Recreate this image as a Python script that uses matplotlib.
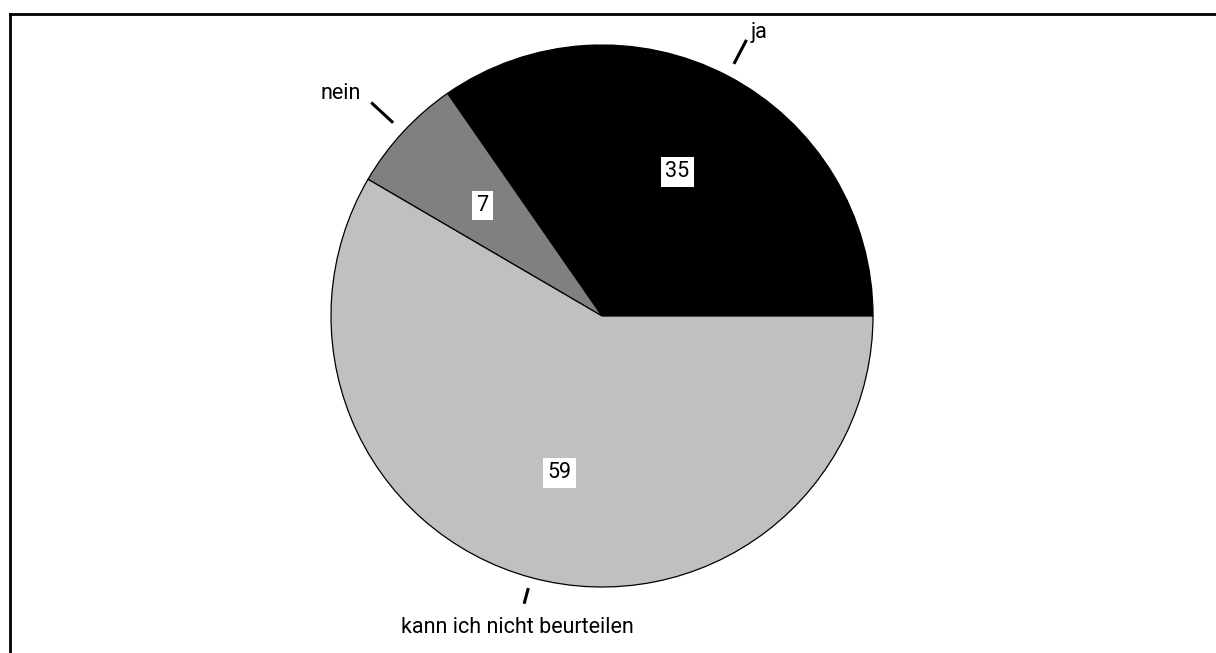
import numpy as np
import matplotlib.pyplot as plt
from matplotlib.lines import Line2D

plt.rcParams['font.family'] = ['Roboto', 'DejaVu Sans']

labels = ['ja', 'nein', 'kann ich nicht beurteilen']
values = [35, 7, 59]
colors = ['#000000', '#808080', '#c0c0c0']

W, H = 1216, 653
cx, cy, r = 602, 316, 271

fig = plt.figure(figsize=(W / 100, H / 100), dpi=100)
ax = fig.add_axes([0, 0, 1, 1])

wedges, _ = ax.pie(values, colors=colors, startangle=0, counterclock=True,
                   radius=1, center=(0, 0), frame=True,
                   wedgeprops=dict(edgecolor='black', linewidth=0.9))
ax.set_xlim(-cx / r, (W - cx) / r)
ax.set_ylim((cy - H) / r, cy / r)
ax.set_aspect('auto')
ax.axis('off')

# leader lines and outer labels: (line start, line end, label radius, ha)
lead = {'ja': (1.05, 1.15, 1.18, 'left'),
        'nein': (1.05, 1.16, 1.21, 'right'),
        'kann ich nicht beurteilen': (1.04, 1.10, 1.19, 'center')}
for w, lab, val in zip(wedges, labels, values):
    mid = np.deg2rad((w.theta1 + w.theta2) / 2)
    c, s = np.cos(mid), np.sin(mid)
    r0, r1, rl, ha = lead[lab]
    ax.plot([r0 * c, r1 * c], [r0 * s, r1 * s], color='black', lw=2.2,
            solid_capstyle='butt')
    ax.text(rl * c, rl * s, lab, ha=ha, va='center', fontsize=15.5)
    ax.text(0.6 * c, 0.6 * s, str(val), ha='center', va='center', fontsize=15.5,
            bbox=dict(facecolor='white', edgecolor='none', pad=3))

# partial frame (top and left)
fig.add_artist(Line2D([10 / W, 1], [1 - 14 / H, 1 - 14 / H],
                      transform=fig.transFigure, color='black', lw=2))
fig.add_artist(Line2D([10 / W, 10 / W], [0, 1 - 14 / H],
                      transform=fig.transFigure, color='black', lw=2))

fig.savefig('out.png', dpi=100)
